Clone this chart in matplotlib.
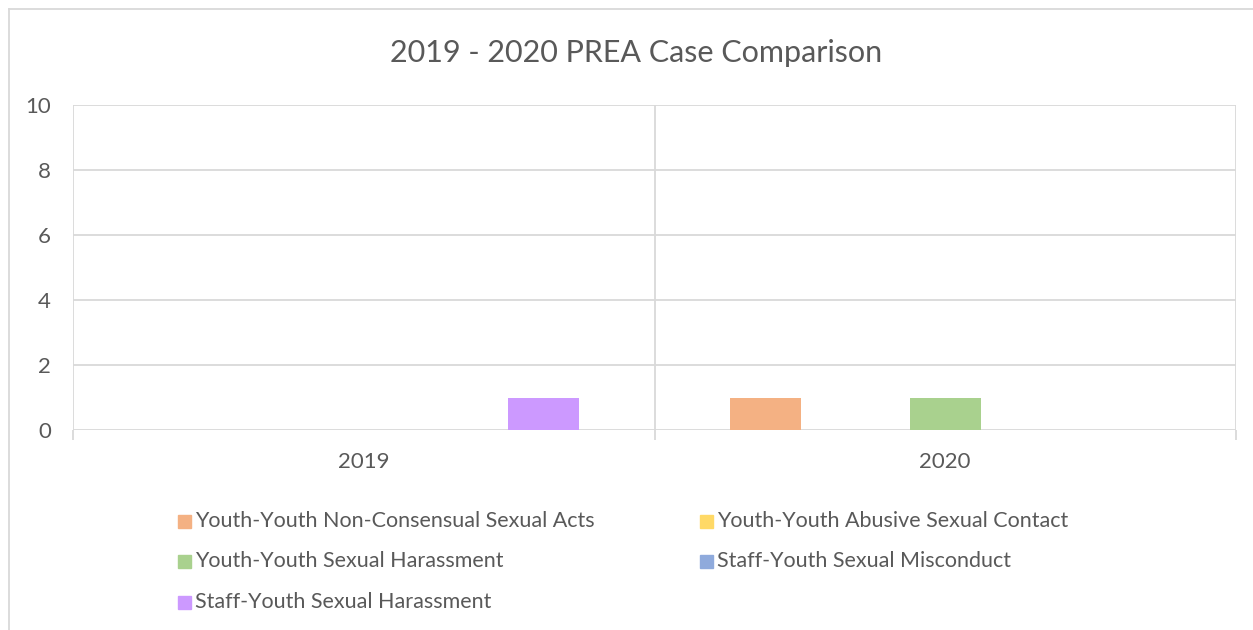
import matplotlib
matplotlib.use("Agg")
import matplotlib.pyplot as plt
from matplotlib.patches import Rectangle
from matplotlib.lines import Line2D
import numpy as np

title = "2019 - 2020 PREA Case Comparison"
categories = ["2019", "2020"]
series_names = [
    "Youth-Youth Non-Consensual Sexual Acts",
    "Youth-Youth Abusive Sexual Contact",
    "Youth-Youth Sexual Harassment",
    "Staff-Youth Sexual Misconduct",
    "Staff-Youth Sexual Harassment",
]
series_values = [
    [0, 1],
    [0, 0],
    [0, 1],
    [0, 0],
    [1, 0],
]
colors = ["#F4B183", "#FFD966", "#A9D18E", "#8FAADC", "#CC99FF"]
yticks = [0, 2, 4, 6, 8, 10]

plt.rcParams['font.family'] = ['Lato', 'DejaVu Sans']
txt = "#595959"
grid = "#D9D9D9"

fig = plt.figure(figsize=(12.53, 6.30), dpi=100)
W, H = 1253, 630
ax = fig.add_axes([73 / W, 1 - 430 / H, (1236 - 73) / W, (430 - 105) / H])

x = np.arange(len(categories))
spacing = 0.1543
width = 0.1224
n = len(series_names)
for i, (name, vals, c) in enumerate(zip(series_names, series_values, colors)):
    ax.bar(x + (i - (n - 1) / 2) * spacing, vals, width=width, color=c, label=name, zorder=3)

ax.set_xlim(-0.5, len(categories) - 0.5)
ax.set_ylim(0, 10)
ax.set_yticks(yticks)
ax.set_yticklabels([str(v) for v in yticks], fontsize=16, color=txt)
ax.tick_params(axis='y', length=0, pad=16)
for v in yticks:
    ax.axhline(v, color=grid, lw=1.3, zorder=1)
for b in np.arange(-0.5, len(categories), 1.0):
    ax.axvline(b, color=grid, lw=1.3, zorder=1)
ax.set_xticks(np.arange(-0.5, len(categories), 1.0))
ax.set_xticklabels([])
ax.tick_params(axis='x', length=7, color=grid, width=1.3)
ax.set_xticks(x, minor=True)
ax.set_xticklabels(categories, minor=True, fontsize=16, color=txt)
ax.tick_params(axis='x', which='minor', length=0, pad=16)
for s in ax.spines.values():
    s.set_visible(False)

fig.text(636.5 / W, 1 - 53 / H, title, ha='center', va='center', fontsize=22, color=txt)

# figure border (top and left)
fig.add_artist(Line2D([9 / W, 1], [1 - 9 / H, 1 - 9 / H], color=grid, lw=1.3, transform=fig.transFigure))
fig.add_artist(Line2D([9 / W, 9 / W], [0, 1 - 9 / H], color=grid, lw=1.3, transform=fig.transFigure))

# legend laid out row-wise in two columns
col_x = [178, 700]
row_y = [521, 561, 602]
for i, (name, c) in enumerate(zip(series_names, colors)):
    cx = col_x[i % 2]
    cy = row_y[i // 2]
    fig.add_artist(Rectangle((cx / W, 1 - (cy + 6.5) / H), 13 / W, 13 / H, color=c, transform=fig.transFigure))
    fig.text((cx + 17) / W, 1 - cy / H, name, ha='left', va='center', fontsize=15.5, color=txt)

fig.savefig("out.png", dpi=100, facecolor="white")
